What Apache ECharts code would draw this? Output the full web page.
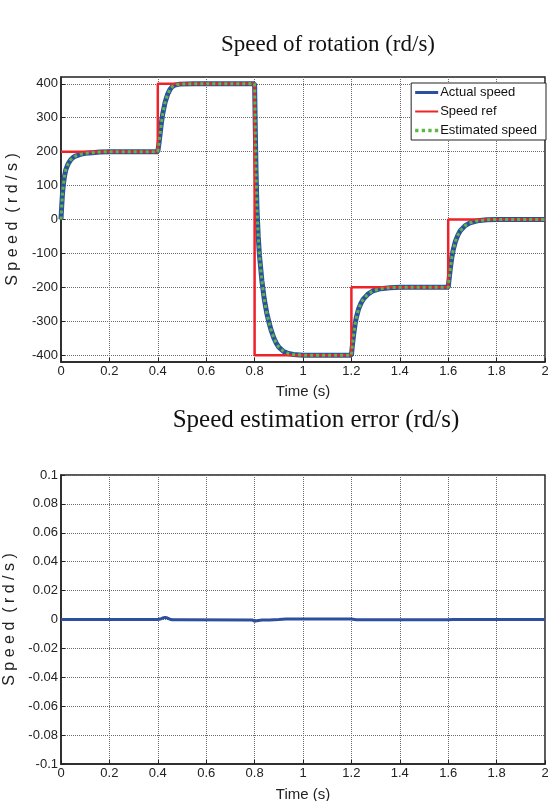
<!DOCTYPE html>
<html>
<head>
<meta charset="utf-8">
<script src="https://cdn.jsdelivr.net/npm/echarts@6/dist/echarts.min.js"></script>
<style>html,body{margin:0;padding:0;background:#fff}#c{width:548px;height:801px}</style>
</head>
<body>
<div id="c"></div>
<script>
// ---- Data ----
var timeTicks = [0, 0.2, 0.4, 0.6, 0.8, 1, 1.2, 1.4, 1.6, 1.8, 2];
var speedTicks = [-400, -300, -200, -100, 0, 100, 200, 300, 400];
var errTicks = [-0.1, -0.08, -0.06, -0.04, -0.02, 0, 0.02, 0.04, 0.06, 0.08, 0.1];

var refT = [0, 0.4, 0.4, 0.8, 0.8, 1.2, 1.2, 1.6, 1.6, 2];
var refV = [200, 200, 400, 400, -400, -400, -200, -200, 0, 0];

var actualT = [0,0.003,0.006,0.01,0.015,0.02,0.03,0.04,0.05,0.06,0.08,0.1,0.13,0.16,0.2,0.3,0.4,
  0.405,0.41,0.415,0.42,0.43,0.44,0.45,0.46,0.47,0.49,0.55,0.7,0.8,
  0.803,0.806,0.81,0.815,0.82,0.83,0.84,0.85,0.86,0.87,0.88,0.89,0.9,0.92,0.94,0.96,1.0,1.1,1.2,
  1.205,1.21,1.215,1.22,1.23,1.24,1.25,1.27,1.29,1.32,1.36,1.4,1.5,1.6,
  1.605,1.61,1.615,1.62,1.63,1.64,1.65,1.67,1.69,1.72,1.76,1.8,1.9,2.0];
var actualV = [0,40,75,105,130,147,165,176,183,187,192,195,197,199,200,200,200,
  225,255,285,310,345,368,383,392,396,399,400,400,400,
  260,140,30,-50,-105,-180,-235,-275,-305,-330,-350,-365,-376,-389,-395,-398,-400,-400,-400,
  -365,-335,-310,-290,-263,-246,-234,-219,-210,-204,-201,-200,-200,-200,
  -168,-138,-112,-92,-64,-46,-33,-18,-10,-4,-1,0,0,0];

var estT = [0,0.003,0.006,0.01,0.015,0.02,0.03,0.04,0.05,0.06,0.08,0.1,0.13,0.16,0.2,0.3,0.4,
  0.405,0.41,0.415,0.42,0.43,0.44,0.45,0.46,0.47,0.49,0.55,0.7,0.8,
  0.803,0.806,0.81,0.815,0.82,0.83,0.84,0.85,0.86,0.87,0.88,0.89,0.9,0.92,0.94,0.96,1.0,1.1,1.2,
  1.205,1.21,1.215,1.22,1.23,1.24,1.25,1.27,1.29,1.32,1.36,1.4,1.5,1.6,
  1.605,1.61,1.615,1.62,1.63,1.64,1.65,1.67,1.69,1.72,1.76,1.8,1.9,2.0];
var estV = [0,40,75,105,130,147,165,176,183,187,192,195,197,199,200,200,200,
  225,255,285,310,345,368,383,392,396,399,400,400,400,
  260,140,30,-50,-105,-180,-235,-275,-305,-330,-350,-365,-376,-389,-395,-398,-400,-400,-400,
  -365,-335,-310,-290,-263,-246,-234,-219,-210,-204,-201,-200,-200,-200,
  -168,-138,-112,-92,-64,-46,-33,-18,-10,-4,-1,0,0,0];

var errT = [0,0.4,0.41,0.42,0.43,0.44,0.45,0.46,0.5,0.79,0.8,0.81,0.83,0.86,0.9,0.93,1.0,1.2,1.22,1.3,1.6,1.62,2.0];
var errV = [0,0,0.0003,0.001,0.0015,0.001,0.0002,-0.0002,-0.0002,-0.0003,-0.0012,-0.0008,-0.0004,-0.0003,0,0.0003,0.0004,0.0004,-0.0002,-0.0002,-0.0001,0,0];

function zip(a, b) { return a.map(function (x, i) { return [x, b[i]]; }); }
function fmt(v) { return String(parseFloat(Number(v).toFixed(4))); }

var FONT = 'Liberation Sans';
var YNAME = 'S p e e d  ( r d / s )';
var gridLine = { show: true, lineStyle: { color: '#6a6a6a', type: [1, 1], width: 1 } };
var labelStyle = { color: '#222', fontSize: 13, fontFamily: FONT, formatter: fmt };
var tickStyle = { show: true, inside: true, length: 4, lineStyle: { color: '#222' } };
var axisLineStyle = { show: true, onZero: false, lineStyle: { color: '#222', width: 1.5 } };
var xNameStyle = { fontSize: 15, fontFamily: FONT, color: '#222' };
var yNameStyle = { fontSize: 16, fontFamily: FONT, color: '#222' };

var chart = echarts.init(document.getElementById('c'), null, { renderer: 'canvas' });
chart.setOption({
  animation: false,
  backgroundColor: '#fff',
  title: [
    { text: 'Speed of rotation (rd/s)', left: 323, top: 28, textAlign: 'center',
      textStyle: { fontFamily: 'Liberation Serif', fontSize: 23, fontWeight: 'normal', color: '#111' } },
    { text: 'Speed estimation error (rd/s)', left: 311, top: 403, textAlign: 'center',
      textStyle: { fontFamily: 'Liberation Serif', fontSize: 25, fontWeight: 'normal', color: '#111' } }
  ],
  legend: {
    data: [
      { name: 'Actual speed', icon: 'path://M0,0h23v3h-23z' },
      { name: 'Speed ref', icon: 'path://M0,0h23v2h-23z' },
      { name: 'Estimated speed', icon: 'path://M0,0h3v3h-3zM6,0h3v3h-3zM12,0h3v3h-3zM18,0h3v3h-3z' }
    ],
    orient: 'vertical', right: 2, top: 83,
    backgroundColor: '#fff', borderColor: '#222', borderWidth: 1, borderRadius: 0,
    padding: [3, 9, 3, 4], itemWidth: 23, itemHeight: 12, itemGap: 6,
    textStyle: { fontSize: 13, fontFamily: FONT, color: '#111', padding: [0, 0, 0, -3] }
  },
  grid: [
    { left: 61, top: 77, width: 484, height: 285, show: true, borderColor: '#222', borderWidth: 1.5,
      backgroundColor: '#fff', outerBoundsMode: 'none', containLabel: false },
    { left: 61, top: 475, width: 484, height: 289, show: true, borderColor: '#222', borderWidth: 1.5,
      backgroundColor: '#fff', outerBoundsMode: 'none', containLabel: false }
  ],
  xAxis: [
    { type: 'value', gridIndex: 0, min: 0, max: 2, interval: 0.2,
      axisLine: axisLineStyle, axisTick: tickStyle,
      axisLabel: Object.assign({ margin: 3 }, labelStyle), splitLine: gridLine,
      name: 'Time (s)', nameLocation: 'middle', nameGap: 22, nameTextStyle: xNameStyle },
    { type: 'value', gridIndex: 1, min: 0, max: 2, interval: 0.2,
      axisLine: axisLineStyle, axisTick: tickStyle,
      axisLabel: Object.assign({ margin: 3 }, labelStyle), splitLine: gridLine,
      name: 'Time (s)', nameLocation: 'middle', nameGap: 23, nameTextStyle: xNameStyle }
  ],
  yAxis: [
    { type: 'value', gridIndex: 0, min: -420, max: 420,
      axisLine: axisLineStyle,
      axisTick: Object.assign({ customValues: speedTicks }, tickStyle),
      axisLabel: Object.assign({ margin: 3, customValues: speedTicks }, labelStyle),
      splitLine: gridLine,
      name: YNAME, nameLocation: 'middle', nameGap: 38, nameRotate: 90, nameTextStyle: yNameStyle },
    { type: 'value', gridIndex: 1, min: -0.1, max: 0.1, interval: 0.02,
      axisLine: axisLineStyle, axisTick: tickStyle,
      axisLabel: Object.assign({ margin: 3 }, labelStyle), splitLine: gridLine,
      name: YNAME, nameLocation: 'middle', nameGap: 38, nameRotate: 90, nameTextStyle: yNameStyle }
  ],
  series: [
    { name: 'Actual speed', type: 'line', xAxisIndex: 0, yAxisIndex: 0, data: zip(actualT, actualV),
      showSymbol: false, symbol: 'none', z: 2,
      lineStyle: { color: '#2d4f9f', width: 5 }, itemStyle: { color: '#2d4f9f' } },
    { name: 'Speed ref', type: 'line', xAxisIndex: 0, yAxisIndex: 0, data: zip(refT, refV),
      showSymbol: false, symbol: 'none', z: 3,
      lineStyle: { color: '#ee2229', width: 2.5 }, itemStyle: { color: '#ee2229' } },
    { name: 'Estimated speed', type: 'line', xAxisIndex: 0, yAxisIndex: 0, data: zip(estT, estV),
      showSymbol: false, symbol: 'none', z: 4,
      lineStyle: { color: '#5cb746', width: 3, type: [3, 3] }, itemStyle: { color: '#5cb746' } },
    { name: 'Speed error', type: 'line', xAxisIndex: 1, yAxisIndex: 1, data: zip(errT, errV),
      showSymbol: false, symbol: 'none', z: 2,
      lineStyle: { color: '#2d4f9f', width: 3 }, itemStyle: { color: '#2d4f9f' } }
  ]
});
</script>
</body>
</html>
